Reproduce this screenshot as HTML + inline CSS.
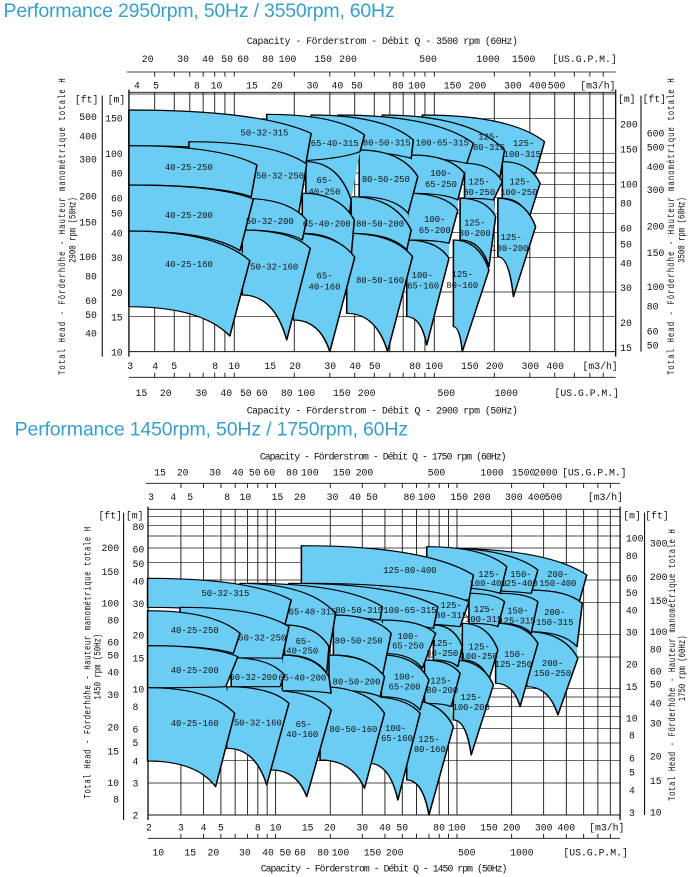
<!DOCTYPE html>
<html><head><meta charset="utf-8"><style>
html,body{margin:0;padding:0;background:#fff;width:689px;height:877px;overflow:hidden}
svg{position:absolute;left:0;display:block}
text:not(.rt){transform-box:fill-box;transform-origin:center;transform:scaleY(1.333)}
.t{font-family:"Liberation Mono",monospace;font-size:22px;fill:#111;text-anchor:middle}
.l{font-family:"Liberation Mono",monospace;font-size:20px;fill:#111;text-anchor:middle}
.rt{font-family:"Liberation Mono",monospace;font-size:22px;fill:#111;text-anchor:middle}
.r{text-anchor:end}.s{text-anchor:start}
.ti{font-family:"Liberation Sans",sans-serif;font-size:44px;fill:#3a9fc8}
</style></head><body>
<svg id="s1" style="top:0" width="689" height="420" viewBox="0 0 1550 1260" preserveAspectRatio="none">
<text class="ti" x="8" y="46" textLength="880">Performance 2950rpm, 50Hz / 3550rpm, 60Hz</text>
<g id="g1"></g>
<text class="t" x="860" y="130" textLength="610">Capacity - Förderstrom - Débit  Q  -  3500 rpm (60Hz)</text>
<g class="t">
<text x="332" y="184">20</text><text x="412" y="184">30</text><text x="468" y="184">40</text><text x="511" y="184">50</text><text x="547" y="184">60</text><text x="603" y="184">80</text><text x="647" y="184">100</text><text x="727" y="184">150</text><text x="783" y="184">200</text><text x="963" y="184">500</text><text x="1098" y="184">1000</text><text x="1178" y="184">1500</text><text x="1315" y="184">[US.G.P.M.]</text>
<text x="308" y="264">4</text><text x="351" y="264">5</text><text x="443" y="264">8</text><text x="487" y="264">10</text><text x="567" y="264">15</text><text x="623" y="264">20</text><text x="703" y="264">30</text><text x="759" y="264">40</text><text x="803" y="264">50</text><text x="895" y="264">80</text><text x="938" y="264">100</text><text x="1018" y="264">150</text><text x="1074" y="264">200</text><text x="1154" y="264">300</text><text x="1210" y="264">400</text><text x="1252" y="264">500</text><text x="1345" y="264">[m3/h]</text>
<text x="293" y="1105">3</text><text x="349" y="1105">4</text><text x="392" y="1105">5</text><text x="484" y="1105">8</text><text x="527" y="1105">10</text><text x="608" y="1105">15</text><text x="664" y="1105">20</text><text x="743" y="1105">30</text><text x="799" y="1105">40</text><text x="843" y="1105">50</text><text x="934" y="1105">80</text><text x="977" y="1105">100</text><text x="1057" y="1105">150</text><text x="1113" y="1105">200</text><text x="1193" y="1105">300</text><text x="1249" y="1105">400</text><text x="1350" y="1105">[m3/h]</text>
<text x="318" y="1186">15</text><text x="373" y="1186">20</text><text x="453" y="1186">30</text><text x="509" y="1186">40</text><text x="553" y="1186">50</text><text x="589" y="1186">60</text><text x="645" y="1186">80</text><text x="689" y="1186">100</text><text x="769" y="1186">150</text><text x="825" y="1186">200</text><text x="1004" y="1186">500</text><text x="1139" y="1186">1000</text><text x="1320" y="1186">[US.G.P.M.]</text>
<text x="860" y="1238" textLength="610">Capacity - Förderstrom - Débit  Q  -  2900 rpm (50Hz)</text>
<text x="195" y="306">[ft]</text><text x="262" y="306">[m]</text><text x="1410" y="304">[m]</text><text x="1472" y="304">[ft]</text>
</g>
<g class="t r">
<text x="218" y="358">500</text><text x="218" y="416">400</text><text x="218" y="486">300</text><text x="218" y="596">200</text><text x="218" y="675">150</text><text x="218" y="778">100</text><text x="218" y="836">80</text><text x="218" y="910">60</text><text x="218" y="952">50</text><text x="218" y="1008">40</text>
<text x="276" y="363">150</text><text x="276" y="469">100</text><text x="276" y="528">80</text><text x="276" y="602">60</text><text x="276" y="648">50</text><text x="276" y="707">40</text><text x="276" y="781">30</text><text x="276" y="886">20</text><text x="276" y="960">15</text><text x="276" y="1064">10</text>
</g>
<g class="t s">
<text x="1395" y="381">200</text><text x="1395" y="455">150</text><text x="1395" y="560">100</text><text x="1395" y="618">80</text><text x="1395" y="692">60</text><text x="1395" y="740">50</text><text x="1395" y="798">40</text><text x="1395" y="871">30</text><text x="1395" y="976">20</text><text x="1395" y="1051">15</text>
<text x="1455" y="408">600</text><text x="1455" y="450">500</text><text x="1455" y="508">400</text><text x="1455" y="577">300</text><text x="1455" y="687">200</text><text x="1455" y="766">150</text><text x="1455" y="868">100</text><text x="1455" y="926">80</text><text x="1455" y="1001">60</text><text x="1455" y="1044">50</text>
</g>
<text class="rt" transform="translate(146,680) rotate(-90)" textLength="890">Total Head - Förderhöhe - Hauteur manométrique totale   H</text>
<text class="rt" transform="translate(170,690) rotate(-90)">2900 rpm (50Hz)</text>
<text class="rt" transform="translate(1516,680) rotate(-90)" textLength="890">Total Head - Förderhöhe - Hauteur manométrique totale   H</text>
<text class="rt" transform="translate(1540,690) rotate(-90)">3500 rpm (60Hz)</text>
<g class="l">
<text x="595" y="405">50-32-315</text><text x="753" y="437">65-40-315</text><text x="870" y="435">80-50-315</text><text x="995" y="435">100-65-315</text><text x="1100" y="417">125-</text><text x="1100" y="449">80-315</text><text x="1178" y="437">125-</text><text x="1175" y="469">100-315</text>
<text x="425" y="509">40-25-250</text><text x="630" y="534">50-32-250</text><text x="730" y="548">65-</text><text x="730" y="582">40-250</text><text x="868" y="544">80-50-250</text><text x="992" y="526">100-</text><text x="992" y="559">65-250</text><text x="1078" y="552">125-</text><text x="1078" y="584">80-250</text><text x="1170" y="552">125-</text><text x="1167" y="584">100-250</text>
<text x="425" y="652">40-25-200</text><text x="607" y="671">50-32-200</text><text x="735" y="678">65-40-200</text><text x="855" y="678">80-50-200</text><text x="978" y="665">100-</text><text x="978" y="697">65-200</text><text x="1068" y="675">125-</text><text x="1068" y="707">80-200</text><text x="1150" y="719">125-</text><text x="1147" y="752">100-200</text>
<text x="425" y="800">40-25-160</text><text x="617" y="807">50-32-160</text><text x="730" y="834">65-</text><text x="730" y="867">40-160</text><text x="855" y="847">80-50-160</text><text x="950" y="832">100-</text><text x="952" y="864">65-160</text><text x="1040" y="830">125-</text><text x="1040" y="862">80-160</text>
</g>
</svg>
<svg id="s2" style="top:420px" width="689" height="457" viewBox="0 0 1550 1371" preserveAspectRatio="none">
<text class="ti" x="33" y="42" textLength="885">Performance 1450rpm, 50Hz / 1750rpm, 60Hz</text>
<g id="g2"></g>
<text class="t" x="862" y="116" textLength="555">Capacity - Förderstrom - Débit  Q  -  1750 rpm (60Hz)</text>
<g class="t">
<text x="360" y="165">15</text><text x="411" y="165">20</text><text x="484" y="165">30</text><text x="535" y="165">40</text><text x="573" y="165">50</text><text x="606" y="165">60</text><text x="657" y="165">80</text><text x="697" y="165">100</text><text x="769" y="165">150</text><text x="820" y="165">200</text><text x="982" y="165">500</text><text x="1107" y="165">1000</text><text x="1178" y="165">1500</text><text x="1228" y="165">2000</text><text x="1337" y="165">[US.G.P.M.]</text>
<text x="340" y="238">3</text><text x="390" y="238">4</text><text x="428" y="238">5</text><text x="511" y="238">8</text><text x="552" y="238">10</text><text x="624" y="238">15</text><text x="675" y="238">20</text><text x="748" y="238">30</text><text x="799" y="238">40</text><text x="837" y="238">50</text><text x="921" y="238">80</text><text x="960" y="238">100</text><text x="1033" y="238">150</text><text x="1084" y="238">200</text><text x="1156" y="238">300</text><text x="1207" y="238">400</text><text x="1245" y="238">500</text><text x="1362" y="238">[m3/h]</text>
<text x="335" y="1230">2</text><text x="407" y="1230">3</text><text x="458" y="1230">4</text><text x="497" y="1230">5</text><text x="580" y="1230">8</text><text x="620" y="1230">10</text><text x="692" y="1230">15</text><text x="742" y="1230">20</text><text x="815" y="1230">30</text><text x="866" y="1230">40</text><text x="905" y="1230">50</text><text x="988" y="1230">80</text><text x="1028" y="1230">100</text><text x="1100" y="1230">150</text><text x="1151" y="1230">200</text><text x="1223" y="1230">300</text><text x="1274" y="1230">400</text><text x="1365" y="1230">[m3/h]</text>
<text x="356" y="1305">10</text><text x="428" y="1305">15</text><text x="480" y="1305">20</text><text x="551" y="1305">30</text><text x="603" y="1305">40</text><text x="642" y="1305">50</text><text x="675" y="1305">60</text><text x="727" y="1305">80</text><text x="766" y="1305">100</text><text x="838" y="1305">150</text><text x="888" y="1305">200</text><text x="1050" y="1305">500</text><text x="1174" y="1305">1000</text><text x="1340" y="1305">[US.G.P.M.]</text>
<text x="864" y="1353" textLength="555">Capacity - Förderstrom - Débit  Q  -  1450 rpm (50Hz)</text>
<text x="248" y="293">[ft]</text><text x="303" y="293">[m]</text><text x="1422" y="293">[m]</text><text x="1478" y="293">[ft]</text>
</g>
<g class="t r">
<text x="268" y="391">200</text><text x="268" y="463">150</text><text x="268" y="557">100</text><text x="268" y="608">80</text><text x="268" y="675">60</text><text x="268" y="713">50</text><text x="268" y="765">40</text><text x="268" y="832">30</text><text x="268" y="929">20</text><text x="268" y="1002">15</text><text x="268" y="1096">10</text><text x="268" y="1146">8</text>
</g>
<g class="t s">
<text x="298" y="328">80</text><text x="298" y="395">60</text><text x="298" y="439">50</text><text x="298" y="491">40</text><text x="298" y="559">30</text><text x="298" y="653">20</text><text x="298" y="722">15</text><text x="298" y="815">10</text><text x="298" y="868">8</text><text x="298" y="935">6</text><text x="298" y="976">5</text><text x="298" y="1031">4</text><text x="298" y="1098">3</text><text x="298" y="1194">2</text>
<text x="1408" y="363">100</text><text x="1408" y="415">80</text><text x="1408" y="482">60</text><text x="1408" y="526">50</text><text x="1408" y="579">40</text><text x="1408" y="645">30</text><text x="1408" y="741">20</text><text x="1408" y="808">15</text><text x="1408" y="902">10</text><text x="1415" y="954">8</text><text x="1415" y="1022">6</text><text x="1415" y="1065">5</text><text x="1415" y="1118">4</text><text x="1415" y="1186">3</text>
<text x="1462" y="378">300</text><text x="1462" y="478">200</text><text x="1462" y="550">150</text><text x="1462" y="643">100</text><text x="1462" y="695">80</text><text x="1462" y="761">60</text><text x="1462" y="800">50</text><text x="1462" y="858">40</text><text x="1462" y="918">30</text><text x="1462" y="1016">20</text><text x="1462" y="1090">15</text><text x="1462" y="1185">10</text>
</g>
<text class="rt" transform="translate(204,728) rotate(-90)" textLength="815">Total Head - Förderhöhe - Hauteur manométrique totale   H</text>
<text class="rt" transform="translate(226,740) rotate(-90)">1450 rpm (50Hz)</text>
<text class="rt" transform="translate(1518,735) rotate(-90)" textLength="815">Total Head - Förderhöhe - Hauteur manométrique totale   H</text>
<text class="rt" transform="translate(1541,745) rotate(-90)">1750 rpm (60Hz)</text>
<g class="l">
<text x="922" y="457">125-80-400</text><text x="1100" y="469">125-</text><text x="1098" y="497">100-400</text><text x="1172" y="469">150-</text><text x="1168" y="497">125-400</text><text x="1255" y="469">200-</text><text x="1255" y="497">150-400</text>
<text x="507" y="526">50-32-315</text><text x="703" y="582">65-40-315</text><text x="808" y="577">80-50-315</text><text x="922" y="577">100-65-315</text><text x="1015" y="562">125-</text><text x="1015" y="592">80-315</text><text x="1090" y="575">125-</text><text x="1088" y="604">100-315</text><text x="1165" y="579">150-</text><text x="1163" y="609">125-315</text><text x="1248" y="584">200-</text><text x="1248" y="613">150-315</text>
<text x="438" y="637">40-25-250</text><text x="590" y="660">50-32-250</text><text x="683" y="670">65-</text><text x="680" y="699">40-250</text><text x="807" y="669">80-50-250</text><text x="918" y="655">100-</text><text x="918" y="684">65-250</text><text x="995" y="677">125-</text><text x="995" y="707">80-250</text><text x="1078" y="687">125-</text><text x="1078" y="715">100-250</text><text x="1158" y="710">150-</text><text x="1155" y="740">125-250</text><text x="1243" y="737">200-</text><text x="1243" y="767">150-250</text>
<text x="438" y="757">40-25-200</text><text x="570" y="779">50-32-200</text><text x="680" y="780">65-40-200</text><text x="802" y="792">80-50-200</text><text x="910" y="777">100-</text><text x="910" y="807">65-200</text><text x="992" y="789">125-</text><text x="995" y="817">80-200</text><text x="1060" y="839">125-</text><text x="1060" y="869">100-200</text>
<text x="438" y="917">40-25-160</text><text x="580" y="915">50-32-160</text><text x="683" y="920">65-</text><text x="680" y="949">40-160</text><text x="795" y="934">80-50-160</text><text x="890" y="932">100-</text><text x="893" y="962">65-160</text><text x="965" y="965">125-</text><text x="967" y="995">80-160</text>
</g>
</svg>
<script>
var NS="http://www.w3.org/2000/svg";
var BLUE="#6ccdf4";
function el(g,n,a){var e=document.createElementNS(NS,n);for(var k in a)e.setAttribute(k,a[k]);g.appendChild(e);return e;}
function ln(g,x1,y1,x2,y2,w){el(g,"line",{x1:x1,y1:y1,x2:x2,y2:y2,stroke:"#111","stroke-width":w||2});}
function tile(g,t){var x0=t[0],yt=t[1],tx=t[2],ty=t[3],bx=t[4],by=t[5],yb=t[6];
var d="M"+x0+","+yt+" Q"+(x0+0.72*(tx-x0))+","+yt+" "+tx+","+ty+" L"+bx+","+by+" Q"+(x0+0.72*(bx-x0))+","+yb+" "+x0+","+yb+" Z";
el(g,"path",{d:d,fill:BLUE,stroke:"#000","stroke-width":3.5,"stroke-linejoin":"round"});}
function union(g,col){
 var a=col[0],n=col[col.length-1];
 var d="M"+a[0]+","+a[1]+" Q"+(a[0]+0.72*(a[2]-a[0]))+","+a[1]+" "+a[2]+","+a[3];
 col.forEach(function(t){d+=" L"+t[2]+","+t[3]+" L"+t[4]+","+t[5];});
 d+=" Q"+(n[0]+0.72*(n[4]-n[0]))+","+n[6]+" "+n[0]+","+n[6];
 for(var i=col.length-1;i>=0;i--){d+=" L"+col[i][0]+","+col[i][6]+" L"+col[i][0]+","+col[i][1];}
 d+=" Z";
 el(g,"path",{d:d,fill:BLUE,stroke:"none"});
}
function chart(g,L,R,T,B,xs,ys,cols,axT,axB,ftX){
 xs.forEach(function(x){ln(g,x,T,x,B,2)});
 ys.forEach(function(y){ln(g,L,y,R,y,2)});
 ln(g,L,T,R,T,2.5);ln(g,L,B,R,B,3);ln(g,L,T-8,L,B+15,3);ln(g,R,T-8,R,B+15,3);
 ln(g,ftX[0],T+10,ftX[0],B+15,2.5);ln(g,ftX[1],T+10,ftX[1],B,2.5);
 ln(g,L-5,axT,R,axT,2.5);ln(g,L,axB,R,axB,2.5);
 xs.forEach(function(x){ln(g,x,axT,x,axT+14,2);ln(g,x,axB-14,x,axB,2)});
 cols.forEach(function(c){union(g,c);c.forEach(function(t){tile(g,t)});});
}
var xs1=[348,392,427,457,483,506,527,662,742,798,842,877,907,933,956,977,1112,1192,1248,1292,1327,1357];
var ys1=[950,876,772,697,640,593,553,519,488,461,356,282];
var c1=[
[[950,345,1225,425,1205,520,485],[1130,485,1215,550,1190,655,595],[1120,595,1205,680,1155,890,770]],
[[860,345,1135,450,1125,530,490],[1045,490,1130,545,1110,600,595],[1035,595,1115,650,1100,800,720],[1020,720,1100,810,1040,1055,980]],
[[760,345,1065,430,1050,490,465],[925,465,1045,520,1030,600,580],[918,580,1030,630,1010,730,720],[915,720,1010,775,960,1035,950]],
[[700,345,930,420,925,475,450],[808,450,940,530,918,640,590],[790,590,925,690,915,750,700],[780,700,928,770,872,1055,940]],
[[600,343,820,405,810,455,485],[688,485,790,600,785,660,580],[680,580,797,660,790,770,700],[660,700,798,772,742,1055,960]],
[[290,330,700,400,688,492,437],[425,425,690,492,672,640,595],[545,595,690,660,680,720,690],[545,690,698,745,645,1020,885]],
[[290,437,578,495,565,590,555],[290,555,570,597,540,752,693],[290,693,562,782,517,1008,920]]];
chart(document.getElementById("g1"),290,1385,277,1055,xs1,ys1,c1,216,1132,[230,1442]);
var xs2=[407,458,497,529,557,580,601,620,743,815,866,905,937,965,988,1009,1028,1151,1223,1274,1313,1345,1373];
var ys2=[1089,1022,969,926,890,859,831,806,711,643,547,480,427,384,348,317,289];
var c2=[
[[1000,385,1320,465,1300,560,515],[1190,510,1310,550,1298,680,635],[1185,635,1300,715,1255,885,800]],
[[980,383,1210,450,1195,520,510],[1125,520,1210,545,1195,640,610],[1115,610,1210,670,1170,860,790]],
[[960,380,1140,440,1125,520,500],[1055,520,1135,545,1120,620,610],[1040,610,1120,690,1100,780,720],[1020,720,1110,795,1060,1005,900]],
[[678,377,1065,465,1055,540,540],[690,490,1055,545,1035,620,605],[975,615,1040,680,1030,740,720],[955,720,1035,760,1015,860,850],[915,840,1020,920,965,1185,1080]],
[[650,490,985,560,975,625,600],[860,600,980,640,950,745,700],[858,705,965,780,945,870,830],[830,830,945,880,895,1140,1030]],
[[560,490,860,560,855,600,585],[750,585,880,640,860,770,705],[740,705,865,770,855,830,810],[720,800,865,880,820,1105,1020]],
[[540,490,755,580,740,700,615],[640,615,740,680,735,760,705],[635,705,740,770,745,820,812],[610,812,745,870,690,1130,1050]],
[[332,475,655,540,640,620,562],[405,562,650,620,635,715,713],[520,713,640,765,630,800,800],[510,800,650,850,600,1095,985]],
[[332,572,540,640,525,700,677],[332,677,535,710,508,800,803],[332,803,528,880,485,1100,1023]]];
chart(document.getElementById("g2"),333,1395,268,1185,xs2,ys2,c2,190,1255,[278,1450]);
</script>
</body></html>
